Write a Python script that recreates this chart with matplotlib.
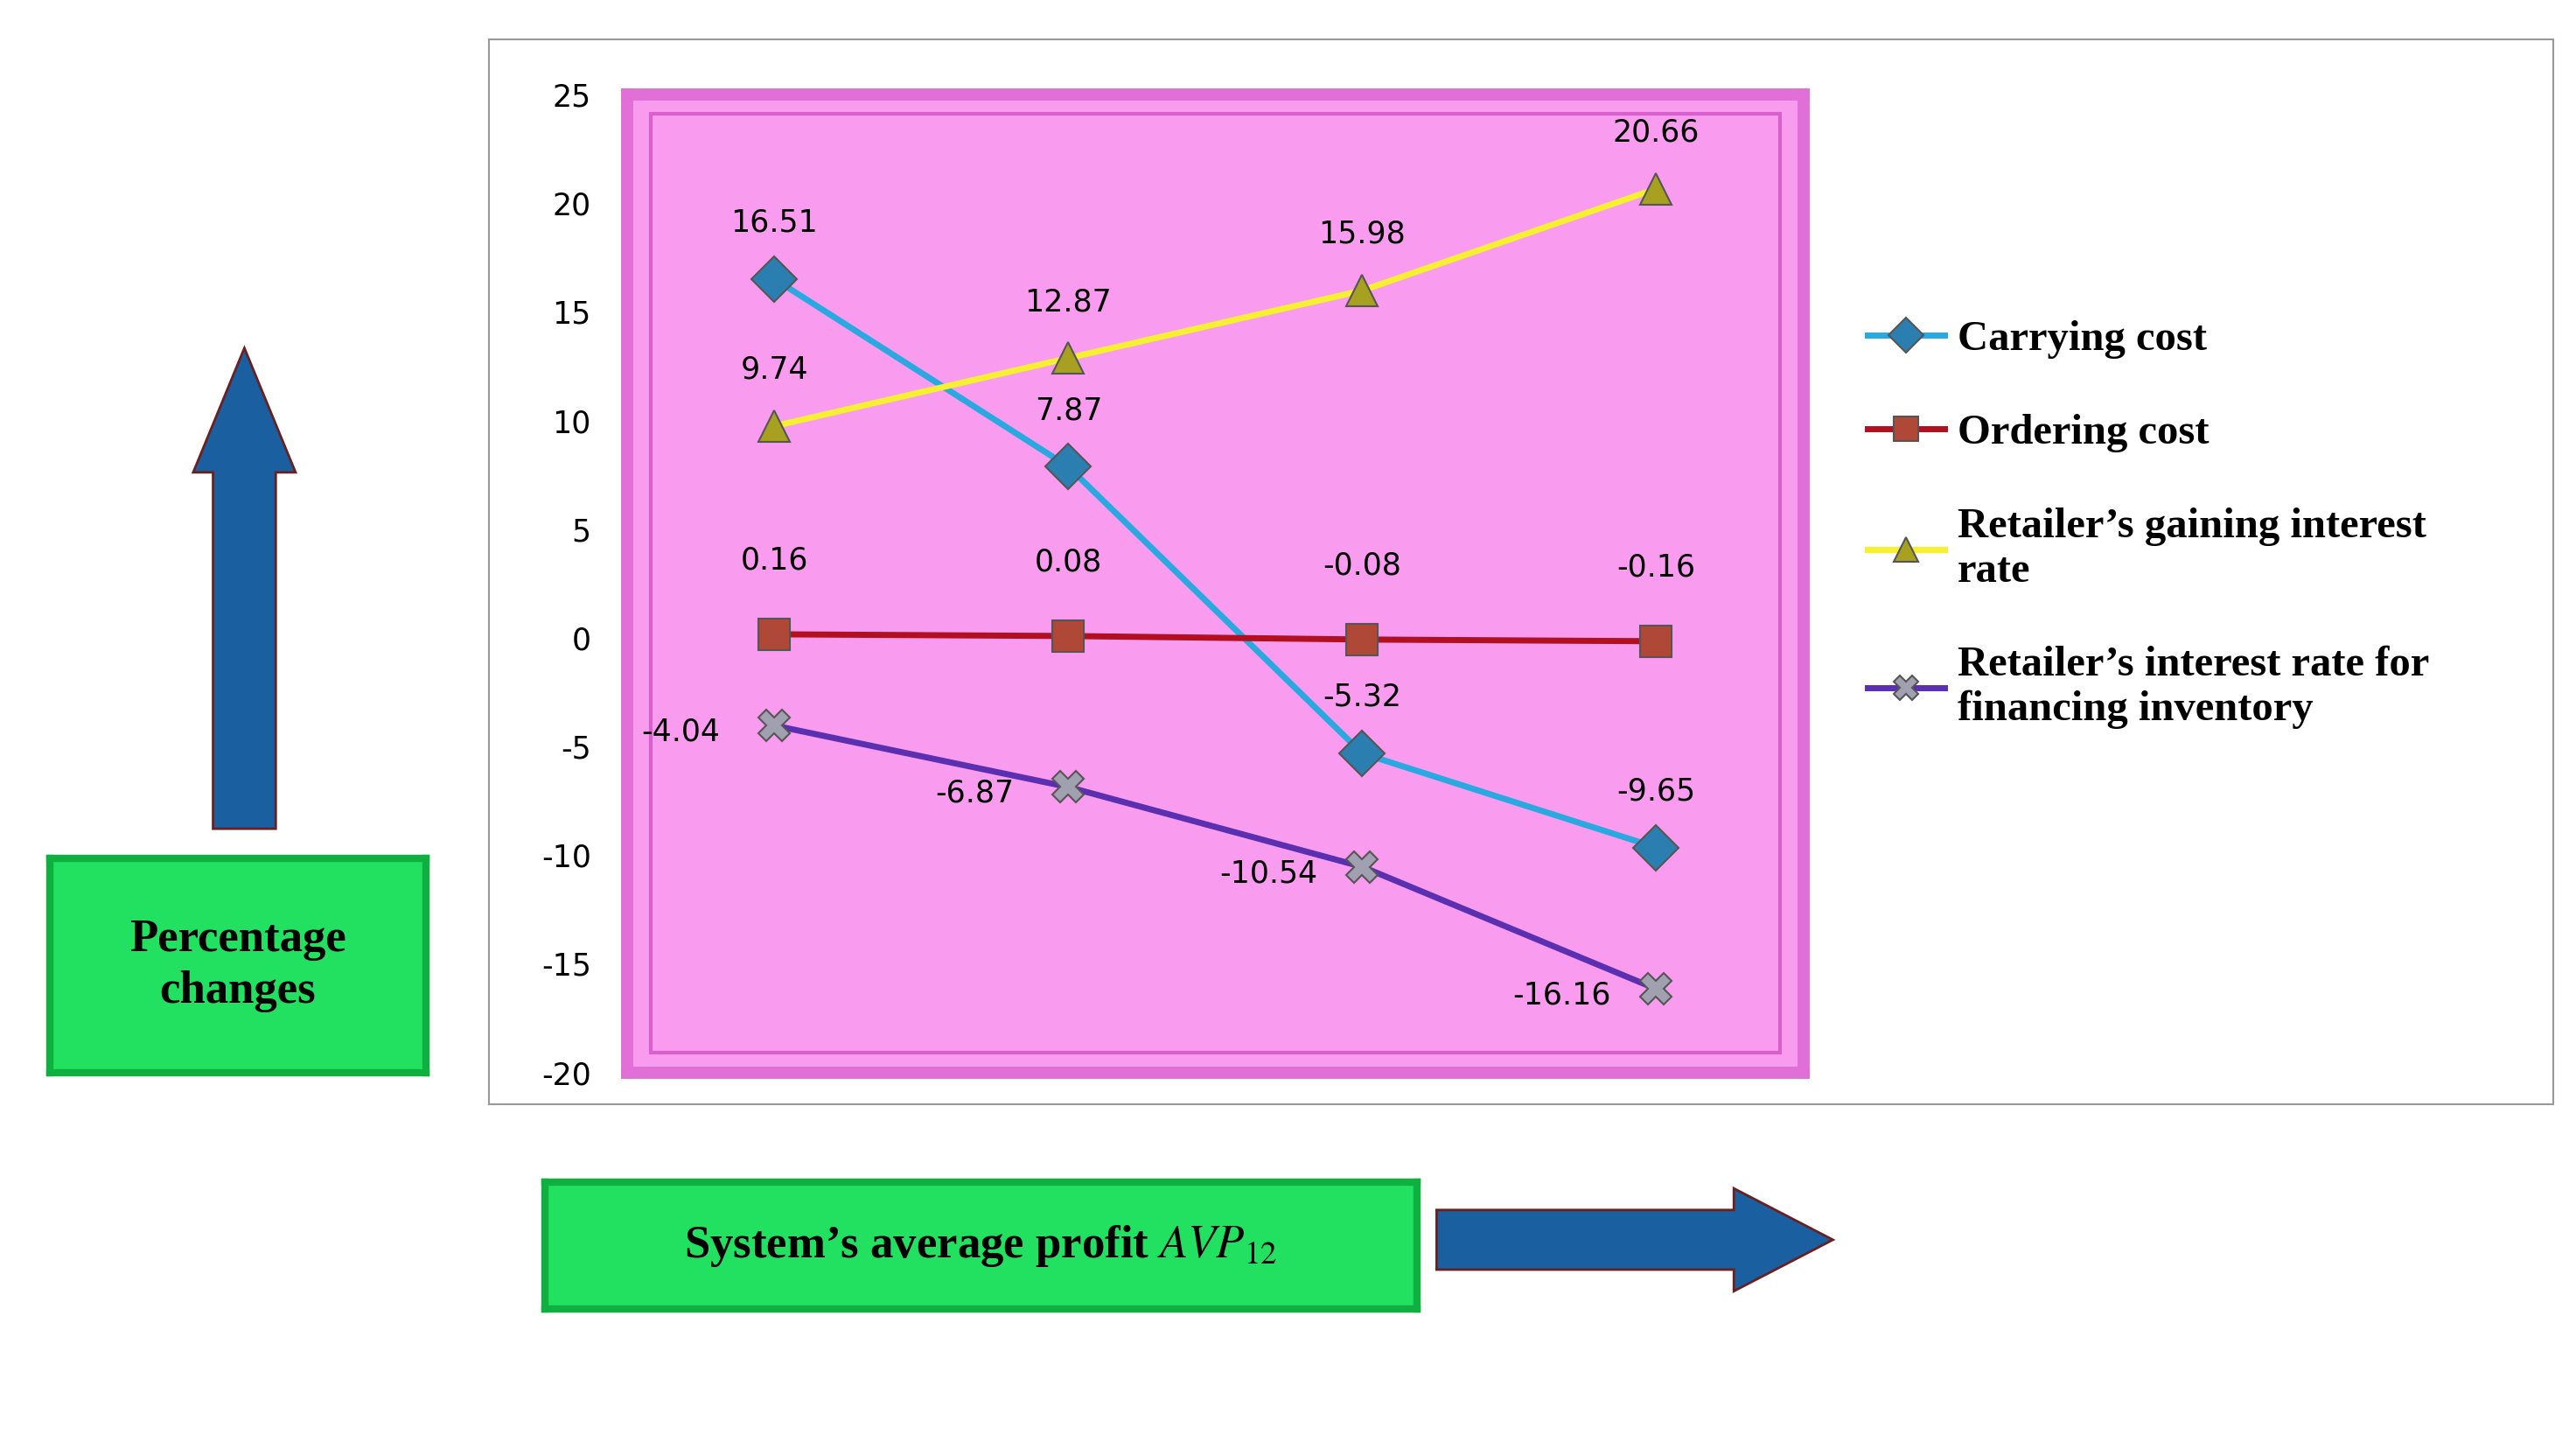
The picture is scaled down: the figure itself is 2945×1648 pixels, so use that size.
import matplotlib.pyplot as plt
import matplotlib.patches as mpatches

plt.rcParams["mathtext.fontset"] = "stix"

categories = [1, 2, 3, 4]
carrying = [16.51, 7.87, -5.32, -9.65]
ordering = [0.16, 0.08, -0.08, -0.16]
gaining = [9.74, 12.87, 15.98, 20.66]
financing = [-4.04, -6.87, -10.54, -16.16]
yticks = list(range(-20, 30, 5))

W, H = 1560, 870  # layout units of the reference


def box(x0, y0, x1, y1):
    return [x0 / W, 1 - y1 / H, (x1 - x0) / W, (y1 - y0) / H]


fig = plt.figure(figsize=(29.45, 16.48), dpi=100)

# outer chart frame
frame = fig.add_axes(box(296, 24, 1546, 666))
frame.set_xticks([]); frame.set_yticks([])
for s in frame.spines.values():
    s.set_color("#999999"); s.set_linewidth(1.5)

ax = fig.add_axes(box(380, 57, 1092, 647))
ax.set_facecolor("#f99cef")
ax.set_xlim(0.5, 4.5)
ax.set_ylim(-20, 25)
ax.set_yticks(yticks)
ax.set_yticklabels([str(t) for t in yticks], fontsize=25)
ax.set_xticks([])
ax.tick_params(axis="y", length=0, pad=30)
for s in ax.spines.values():
    s.set_color("#e070d8"); s.set_linewidth(10)
# inner bevel
ax.add_patch(mpatches.Rectangle((0.02, 0.02), 0.96, 0.96, transform=ax.transAxes,
                                fill=False, ec="#d860cc", lw=3))

series = [
    (carrying, "#2aa8e0", "D", "#2a7fb0", "Carrying cost"),
    (ordering, "#b01020", "s", "#b04838", "Ordering cost"),
    (gaining, "#f5f032", "^", "#a8a020", "Retailer\u2019s gaining interest\nrate"),
    (financing, "#5a2fb0", "X", "#a0a0b0", "Retailer\u2019s interest rate for\nfinancing inventory"),
]
handles = []
for vals, col, mk, mcol, lab in series:
    h, = ax.plot(categories, vals, color=col, lw=5, marker=mk, ms=26,
                 mfc=mcol, mec="#555555", mew=1.5, label=lab)
    handles.append(h)

off = 1.9
lbl = dict(fontsize=25, ha="center", va="bottom")
for x, v in zip(categories, carrying):
    ax.text(x, v + off, f"{v:g}", **lbl)
for x, v in zip(categories, gaining):
    ax.text(x, v + off, f"{v:g}", **lbl)
for x, v in zip(categories, ordering):
    ax.text(x, v + off + 0.8, f"{v:g}", **lbl)
for x, v in zip(categories, financing):
    ax.text(x - 0.32, v - 0.3, f"{v:g}", fontsize=25, ha="center", va="center")

fig.legend(handles=handles, loc="upper left", bbox_to_anchor=(1108 / W, 1 - 170 / H),
           frameon=False, prop={"family": "Liberation Serif", "weight": "bold", "size": 35},
           labelspacing=1.3, handlelength=1.8, handletextpad=0.3, markerscale=0.8)

# green label boxes
for b, txt in [((30, 518, 258, 647), "Percentage\nchanges"),
               ((330, 713, 858, 790), "System\u2019s average profit $\\mathit{AVP}_{12}$")]:
    gx = fig.add_axes(box(*b))
    gx.set_facecolor("#22e060")
    gx.set_xticks([]); gx.set_yticks([])
    for s in gx.spines.values():
        s.set_color("#10b040"); s.set_linewidth(6)
    gx.text(0.5, 0.5, txt, ha="center", va="center", fontsize=38, weight="bold",
            family="Liberation Serif", transform=gx.transAxes, linespacing=1.3)

# arrows
fig.patches.append(mpatches.FancyArrow(148 / W, 1 - 500 / H, 0, 290 / H, width=38 / W,
                                       head_width=62 / W, head_length=75 / H,
                                       length_includes_head=True, color="#1a5fa0",
                                       ec="#6a2020", lw=2, transform=fig.transFigure))
fig.patches.append(mpatches.FancyArrow(870 / W, 1 - 748 / H, 240 / W, 0, width=36 / H,
                                       head_width=62 / H, head_length=60 / W,
                                       length_includes_head=True, color="#1a5fa0",
                                       ec="#6a2020", lw=2, transform=fig.transFigure))

fig.savefig("out.png", dpi=100)
